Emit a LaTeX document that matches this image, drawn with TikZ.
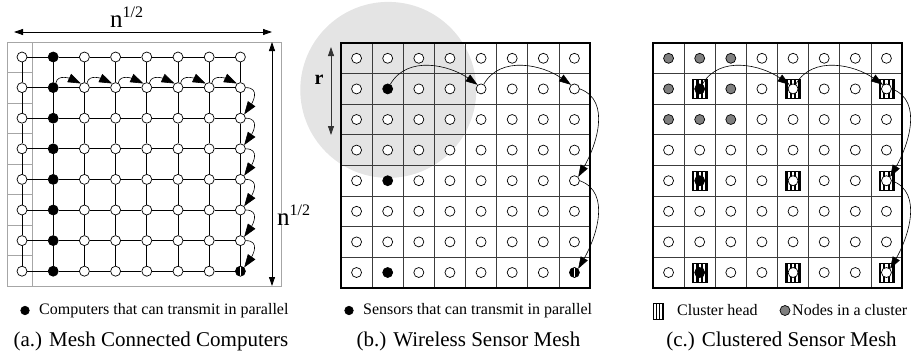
\documentclass[tikz,border=0pt]{standalone}
\usepackage{fontspec}
\setmainfont{Liberation Serif}
\usetikzlibrary{arrows.meta,calc}
\definecolor{rangegrey}{HTML}{E4E4E4}
\definecolor{membergrey}{HTML}{7F7F7F}
\definecolor{framegrey}{HTML}{A6A6A6}
\definecolor{cellgrey}{HTML}{3C3C3C}

\tikzset{
  pnode/.style={circle, draw, line width=0.7pt, fill=white, minimum size=10pt, inner sep=0pt},
  txnode/.style={pnode, fill=black},
  member/.style={pnode, fill=membergrey},
  lastnode/.style={pnode, fill=black,
    path picture={\fill[white] ($(path picture bounding box.south west)!0.42!(path picture bounding box.south east)$)
      rectangle ($(path picture bounding box.north west)!0.6!(path picture bounding box.north east)$);}},
  chead/.style={rectangle, draw, line width=0.8pt, fill=black, minimum width=15pt, minimum height=19pt, inner sep=0pt,
    path picture={\foreach \k [evaluate=\k as \lo using \k/7, evaluate=\k as \hi using (\k+1)/7] in {1,3,5}
      \fill[white] ($(path picture bounding box.south west)!\lo!(path picture bounding box.south east)$)
        rectangle ($(path picture bounding box.north west)!\hi!(path picture bounding box.north east)$);}}
}

\begin{document}
\begin{tikzpicture}[x=1pt, y=-1pt,
  meshline/.style={line width=0.7pt},
  cellline/.style={cellgrey, line width=0.75pt},
  hop/.style={line width=0.6pt, -{Triangle[length=13pt,width=9pt]}},
  shorthop/.style={line width=0.6pt, -{Triangle[length=12pt,width=8pt]}},
  spanarrow/.style={line width=0.8pt, {Triangle[length=9pt,width=6pt]}-{Triangle[length=9pt,width=6pt]}},
  legendtext/.style={anchor=west, inner sep=0pt, font=\rmfamily\fontsize{16}{18}\selectfont},
  caption/.style={inner sep=0pt, font=\rmfamily\fontsize{21}{24}\selectfont},
  col a-2/.style=txnode,
  kind a-8-8/.style=lastnode,
  kind b-2-2/.style=txnode, kind b-2-5/.style=txnode, kind b-2-8/.style=txnode,
  kind b-8-8/.style=lastnode,
  kind c-2-2/.style=txnode, kind c-2-5/.style=txnode, kind c-2-8/.style=txnode,
  kind c-1-1/.style=member, kind c-2-1/.style=member, kind c-3-1/.style=member,
  kind c-1-2/.style=member, kind c-3-2/.style=member,
  kind c-1-3/.style=member, kind c-2-3/.style=member, kind c-3-3/.style=member
]
\useasboundingbox (0,0) rectangle (916,362);

% range of one sensor (under everything)
\fill[rangegrey] (388.3,89.9) circle[radius=88];

% (a.) mesh connected computers
\draw[framegrey, line width=0.8pt] (7,42) rectangle (281,286);
\draw[framegrey, line width=0.8pt] (32,42) -- (32,286);
\foreach \k in {1,...,7}
  \draw[framegrey, line width=0.8pt] (7,{42+30.5*\k}) -- (32,{42+30.5*\k});
\foreach \i in {1,...,8}
  \foreach \j in {1,...,8}
    \node[pnode, col a-\i/.try, kind a-\i-\j/.try] (a-\i-\j) at ({22+31.2*(\i-1)},{57+30.6*(\j-1)}) {};
\foreach \i [evaluate=\i as \n using int(\i+1)] in {1,...,7}
  \foreach \j in {1,...,8} {
    \draw[meshline] (a-\i-\j) -- (a-\n-\j);
    \draw[meshline] (a-\j-\i) -- (a-\j-\n);
  }
\foreach \i [evaluate=\i as \n using int(\i+1)] in {2,...,7}
  \draw[hop] (a-\i-2.60) to[out=80,in=155] (a-\n-2.130);
\foreach \j [evaluate=\j as \n using int(\j+1)] in {2,...,7}
  \draw[hop] (a-8-\j.east) to[out=0,in=55,looseness=1.4] (a-8-\n.45);

\coordinate (top-l) at (14,32);
\coordinate (top-r) at (272,32);
\draw[spanarrow] (top-l) -- (top-r);
\node[anchor=base west, inner sep=0pt, font=\fontsize{25}{25}\selectfont] (len-top) at (110,27)
  {n\raisebox{10pt}{\fontsize{16}{16}\selectfont 1/2}};
\coordinate (side-t) at (272,42);
\coordinate (side-b) at (272,286);
\draw[spanarrow] (side-t) -- (side-b);
\node[anchor=base west, inner sep=0pt, font=\fontsize{25}{25}\selectfont] (len-side) at (277,225)
  {n\raisebox{10pt}{\fontsize{16}{16}\selectfont 1/2}};

% (b.) wireless sensor mesh
\foreach \k in {1,...,7} {
  \draw[cellline] ({341+31.125*\k},43) -- ({341+31.125*\k},287.8);
  \draw[cellline] (341,{43+30.6*\k}) -- (590,{43+30.6*\k});
}
\draw[line width=1.5pt] (341,43) rectangle (590,287.8);
\foreach \i in {1,...,8}
  \foreach \j in {1,...,8}
    \node[pnode, kind b-\i-\j/.try] (b-\i-\j) at ({341+31.125*(\i-0.5)},{43+30.6*(\j-0.5)}) {};
\draw[shorthop] (b-2-2.60) to[out=60,in=145] (b-5-2.130);
\draw[shorthop] (b-5-2.60) to[out=60,in=145] (b-8-2.130);
\draw[shorthop] (b-8-2.east) to[out=-20,in=60] (b-8-5.45);
\draw[shorthop] (b-8-5.east) to[out=-20,in=60] (b-8-8.45);

\coordinate (r-top) at (331,47);
\coordinate (r-bot) at (331,135);
\draw[spanarrow, black!80] (r-top) -- (r-bot);
\node[inner sep=0pt, font=\fontsize{20}{20}\selectfont\bfseries] (r-label) at (319,80) {r};

% (c.) clustered sensor mesh
\foreach \k in {1,...,7} {
  \draw[cellline] ({653+31.125*\k},43) -- ({653+31.125*\k},287.8);
  \draw[cellline] (653,{43+30.6*\k}) -- (902,{43+30.6*\k});
}
\draw[line width=1.5pt] (653,43) rectangle (902,287.8);
\foreach \i in {2,5,8}
  \foreach \j in {2,5,8}
    \node[chead] (h-\i-\j) at ({653+31.125*(\i-0.5)},{43+30.6*(\j-0.5)}) {};
\foreach \i in {1,...,8}
  \foreach \j in {1,...,8}
    \node[pnode, kind c-\i-\j/.try] (c-\i-\j) at ({653+31.125*(\i-0.5)},{43+30.6*(\j-0.5)}) {};
\draw[shorthop] (c-2-2.60) to[out=60,in=145] (c-5-2.130);
\draw[shorthop] (c-5-2.60) to[out=60,in=145] (c-8-2.130);
\draw[shorthop] (c-8-2.east) to[out=-20,in=60] (c-8-5.45);
\draw[shorthop] (c-8-5.east) to[out=-20,in=60] (c-8-8.45);

% legends
\node[txnode, minimum size=8.5pt] (key-a) at (25,310.5) {};
\node[legendtext] (key-a-text) at (39,310.5) {Computers that can transmit in parallel};
\node[txnode, minimum size=8.5pt] (key-b) at (349,310.5) {};
\node[legendtext] (key-b-text) at (363,310.5) {Sensors that can transmit in parallel};
\node[chead, minimum width=10pt, minimum height=16pt] (key-head) at (658,311.5) {};
\node[legendtext] (key-head-text) at (677,310.5) {Cluster head};
\node[member, minimum size=10pt] (key-member) at (785,310.5) {};
\node[legendtext] (key-member-text) at (792,310.5) {Nodes in a cluster};

% captions
\node[caption] (cap-a) at (151,341) {(a.) Mesh Connected Computers};
\node[caption] (cap-b) at (468.5,341) {(b.) Wireless Sensor Mesh};
\node[caption] (cap-c) at (781.5,341) {(c.) Clustered Sensor Mesh};
\end{tikzpicture}
\end{document}
